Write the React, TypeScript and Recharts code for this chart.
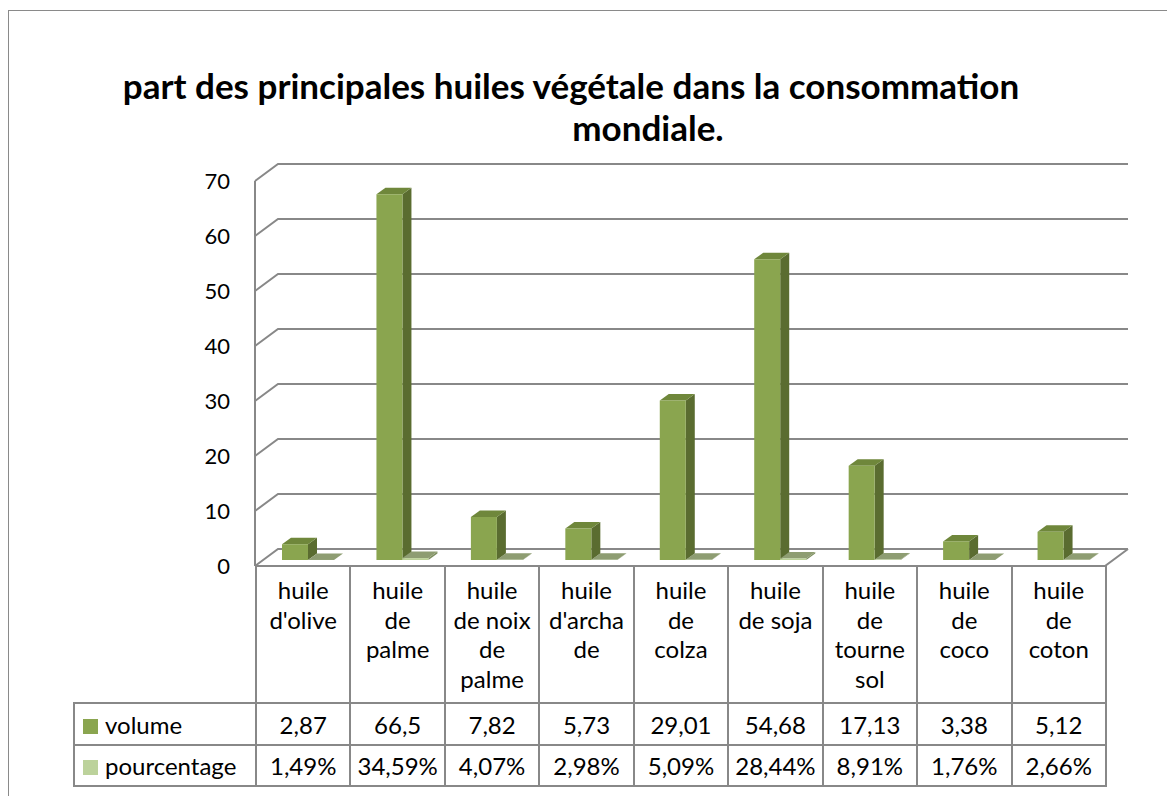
import { BarChart, Bar, XAxis, YAxis, CartesianGrid } from "recharts";

const categories = [
  "huile d'olive",
  "huile de palme",
  "huile de noix de palme",
  "huile d'archade",
  "huile de colza",
  "huile de soja",
  "huile de tournesol",
  "huile de coco",
  "huile de coton",
];
// how the labels wrap in the data table
const categoryLines = [
  ["huile", "d'olive"],
  ["huile", "de", "palme"],
  ["huile", "de noix", "de", "palme"],
  ["huile", "d'archa", "de"],
  ["huile", "de", "colza"],
  ["huile", "de soja"],
  ["huile", "de", "tourne", "sol"],
  ["huile", "de", "coco"],
  ["huile", "de", "coton"],
];
const volume = [2.87, 66.5, 7.82, 5.73, 29.01, 54.68, 17.13, 3.38, 5.12];
const pourcentage = [0.0149, 0.3459, 0.0407, 0.0298, 0.0509, 0.2844, 0.0891, 0.0176, 0.0266];
const yTicks = [0, 10, 20, 30, 40, 50, 60, 70];

const data = categories.map((name, i) => ({ name, volume: volume[i], pourcentage: pourcentage[i] }));

const FONT = "Lato, 'Open Sans', sans-serif";
const GRID = "#888888";
const W = 1167;
const H = 796;
// plot front plane
const PX0 = 255;
const PX1 = 1105;
const PY0 = 181;
const PY1 = 566;
// back wall offset
const DX = 23;
const DY = -17;
const COL_W = (PX1 - PX0) / categories.length;

const fmtNum = (v: number) => String(v).replace(".", ",");
const fmtPct = (v: number) => (v * 100).toFixed(2).replace(".", ",") + "%";

function Box3D(props: any) {
  const { x, y, width, height, front, side, top } = props;
  const bx = x + 6;
  const by = y - 6;
  const d = 9;
  const e = -6.5;
  const h = Math.max(height, 0);
  return (
    <g>
      <polygon
        points={`${bx + width},${by} ${bx + width + d},${by + e} ${bx + width + d},${by + h + e} ${bx + width},${by + h}`}
        fill={side}
      />
      <polygon
        points={`${bx},${by} ${bx + d},${by + e} ${bx + width + d},${by + e} ${bx + width},${by}`}
        fill={top}
      />
      <rect x={bx} y={by} width={width} height={h} fill={front} />
    </g>
  );
}

function GridLine(props: any) {
  const { x1, x2, y1, index } = props;
  const back = `${x1},${y1} ${x1 + DX},${y1 + DY} ${x2 + DX},${y1 + DY}`;
  return (
    <g key={`g-${index}`}>
      <polyline points={back} fill="none" stroke={GRID} strokeWidth={2} />
      {Math.abs(y1 - PY1) < 1 && (
        <polyline points={`${x1},${y1} ${x2},${y1} ${x2 + DX},${y1 + DY}`} fill="none" stroke={GRID} strokeWidth={2} />
      )}
    </g>
  );
}

const cell: React.CSSProperties = {
  border: `2px solid ${GRID}`,
  padding: 0,
  textAlign: "center",
  fontSize: 24,
  color: "#000",
};

const titleStyle: React.CSSProperties = {
  position: "absolute",
  width: 1000,
  textAlign: "center",
  fontSize: 35,
  fontWeight: 700,
  lineHeight: "42px",
  whiteSpace: "nowrap",
};

export default function App() {
  return (
    <div
      style={{
        position: "fixed",
        left: 0,
        top: 0,
        width: W,
        height: H,
        overflow: "hidden",
        background: "#fff",
        fontFamily: FONT,
      }}
    >
      <div
        style={{
          position: "absolute",
          left: 8,
          top: 10,
          width: 1200,
          height: 900,
          border: "1.5px solid #8a8a8a",
        }}
      />
      <div style={{ ...titleStyle, left: 571 - 500, top: 64 }}>
        part des principales huiles végétale dans la consommation
      </div>
      <div style={{ ...titleStyle, left: 648 - 500, top: 106 }}>mondiale.</div>
      <div style={{ position: "absolute", left: 0, top: 0 }}>
        <BarChart
          width={W}
          height={H}
          data={data}
          margin={{ top: PY0, bottom: H - PY1, left: PX0 - 60, right: W - PX1 }}
          barGap={0}
          barSize={26}
        >
          <CartesianGrid vertical={false} horizontal={(p: any) => <GridLine {...p} />} />
          <XAxis dataKey="name" hide />
          <YAxis
            width={60}
            domain={[0, 70]}
            ticks={yTicks}
            interval={0}
            tickLine={false}
            tickSize={0}
            tickMargin={25}
            axisLine={{ stroke: GRID, strokeWidth: 2 }}
            tick={{ fontSize: 22, fill: "#000", fontFamily: FONT }}
          />
          <Bar
            dataKey="volume"
            isAnimationActive={false}
            shape={(p: any) => <Box3D {...p} front="#8AA54F" side="#5A6C30" top="#6F873B" />}
          />
          <Bar
            dataKey="pourcentage"
            isAnimationActive={false}
            shape={(p: any) => <Box3D {...p} front="#BBD197" side="#7E8F60" top="#8E9D72" />}
          />
        </BarChart>
      </div>
      <table
        style={{
          position: "absolute",
          left: 73,
          top: PY1 - 1,
          borderCollapse: "collapse",
          tableLayout: "fixed",
          width: PX1 - 73,
          fontFamily: FONT,
        }}
      >
        <colgroup>
          <col style={{ width: PX0 - 73 }} />
          {categories.map((c) => (
            <col key={c} style={{ width: COL_W }} />
          ))}
        </colgroup>
        <tbody>
          <tr style={{ height: 137 }}>
            <td style={{ border: "none" }} />
            {categoryLines.map((lines, i) => (
              <td key={i} style={{ ...cell, verticalAlign: "top", paddingTop: 8, lineHeight: "29.5px" }}>
                {lines.map((l, j) => (
                  <div key={j}>{l}</div>
                ))}
              </td>
            ))}
          </tr>
          <tr style={{ height: 42 }}>
            <td style={{ ...cell, textAlign: "left", paddingLeft: 8, whiteSpace: "nowrap" }}>
              <span
                style={{ display: "inline-block", width: 15, height: 15, background: "#8AA54F", marginRight: 7, verticalAlign: 0 }}
              />
              volume
            </td>
            {volume.map((v, i) => (
              <td key={i} style={cell}>
                {fmtNum(v)}
              </td>
            ))}
          </tr>
          <tr style={{ height: 41 }}>
            <td style={{ ...cell, textAlign: "left", paddingLeft: 8, whiteSpace: "nowrap" }}>
              <span
                style={{ display: "inline-block", width: 15, height: 15, background: "#BCD29B", marginRight: 7, verticalAlign: 0 }}
              />
              pourcentage
            </td>
            {pourcentage.map((v, i) => (
              <td key={i} style={cell}>
                {fmtPct(v)}
              </td>
            ))}
          </tr>
        </tbody>
      </table>
    </div>
  );
}
